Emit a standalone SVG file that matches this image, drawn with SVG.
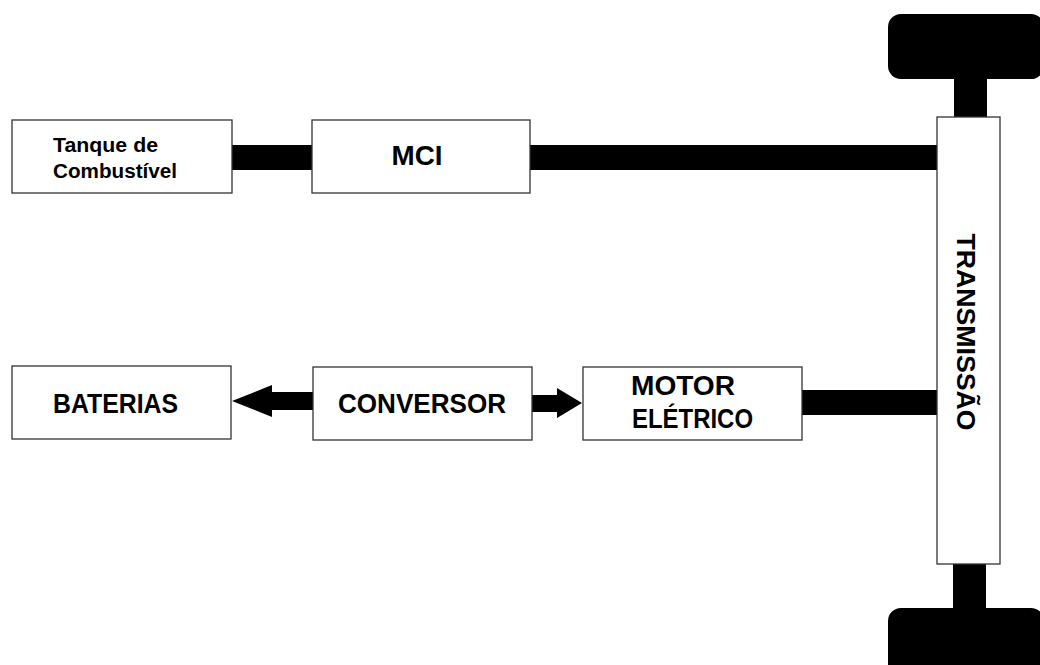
<svg xmlns="http://www.w3.org/2000/svg" width="1040" height="665" viewBox="0 0 1040 665">
<style>
.box{fill:#fff;stroke:#333;stroke-width:1.3}
.t{font-family:"Liberation Sans",Arial,sans-serif;font-weight:bold;fill:#000}
.bar{fill:#000}
</style>
<rect width="1040" height="665" fill="#fff"/>
<g id="connectors">
<rect class="bar" x="232" y="145" width="80" height="25"/>
<rect class="bar" x="530" y="145" width="408" height="25"/>
<rect class="bar" x="801" y="390" width="137" height="25"/>
<polygon class="bar" points="313,392 272,392 272,385 232,401 272,417 272,410 313,410"/>
<polygon class="bar" points="532,395 557,395 557,388 582,403 557,418 557,412 532,412"/>
<rect class="bar" x="954" y="78" width="33" height="40"/>
<rect class="bar" x="953" y="563" width="33" height="46"/>
</g>
<g id="wheel-top"><rect class="bar" x="888" y="14" width="156" height="65" rx="13"/></g>
<g id="wheel-bottom"><rect class="bar" x="888" y="608" width="156" height="80" rx="13"/></g>
<g id="tanque">
<rect class="box" x="12" y="120" width="220" height="73"/>
<text class="t" x="53" y="152" font-size="19.5" textLength="105" lengthAdjust="spacingAndGlyphs">Tanque de</text>
<text class="t" x="53" y="178" font-size="19.5" textLength="124" lengthAdjust="spacingAndGlyphs">Combustível</text>
</g>
<g id="mci">
<rect class="box" x="312" y="120" width="218" height="73"/>
<text class="t" x="417" y="165" font-size="27.5" text-anchor="middle" textLength="51" lengthAdjust="spacingAndGlyphs">MCI</text>
</g>
<g id="transmissao">
<rect class="box" x="937" y="117" width="63" height="447"/>
<text class="t" transform="translate(957,332) rotate(90)" x="0" y="0" font-size="25" text-anchor="middle" textLength="197" lengthAdjust="spacingAndGlyphs">TRANSMISSÃO</text>
</g>
<g id="baterias">
<rect class="box" x="12" y="366" width="219" height="73"/>
<text class="t" x="115.5" y="413" font-size="27.5" text-anchor="middle" textLength="125" lengthAdjust="spacingAndGlyphs">BATERIAS</text>
</g>
<g id="conversor">
<rect class="box" x="313" y="367" width="219" height="73"/>
<text class="t" x="422" y="413" font-size="27.5" text-anchor="middle" textLength="168" lengthAdjust="spacingAndGlyphs">CONVERSOR</text>
</g>
<g id="motor">
<rect class="box" x="583" y="367" width="219" height="73"/>
<text class="t" x="631" y="395" font-size="27.5" textLength="104" lengthAdjust="spacingAndGlyphs">MOTOR</text>
<text class="t" x="632" y="428" font-size="27.5" textLength="121" lengthAdjust="spacingAndGlyphs">ELÉTRICO</text>
</g>
</svg>
